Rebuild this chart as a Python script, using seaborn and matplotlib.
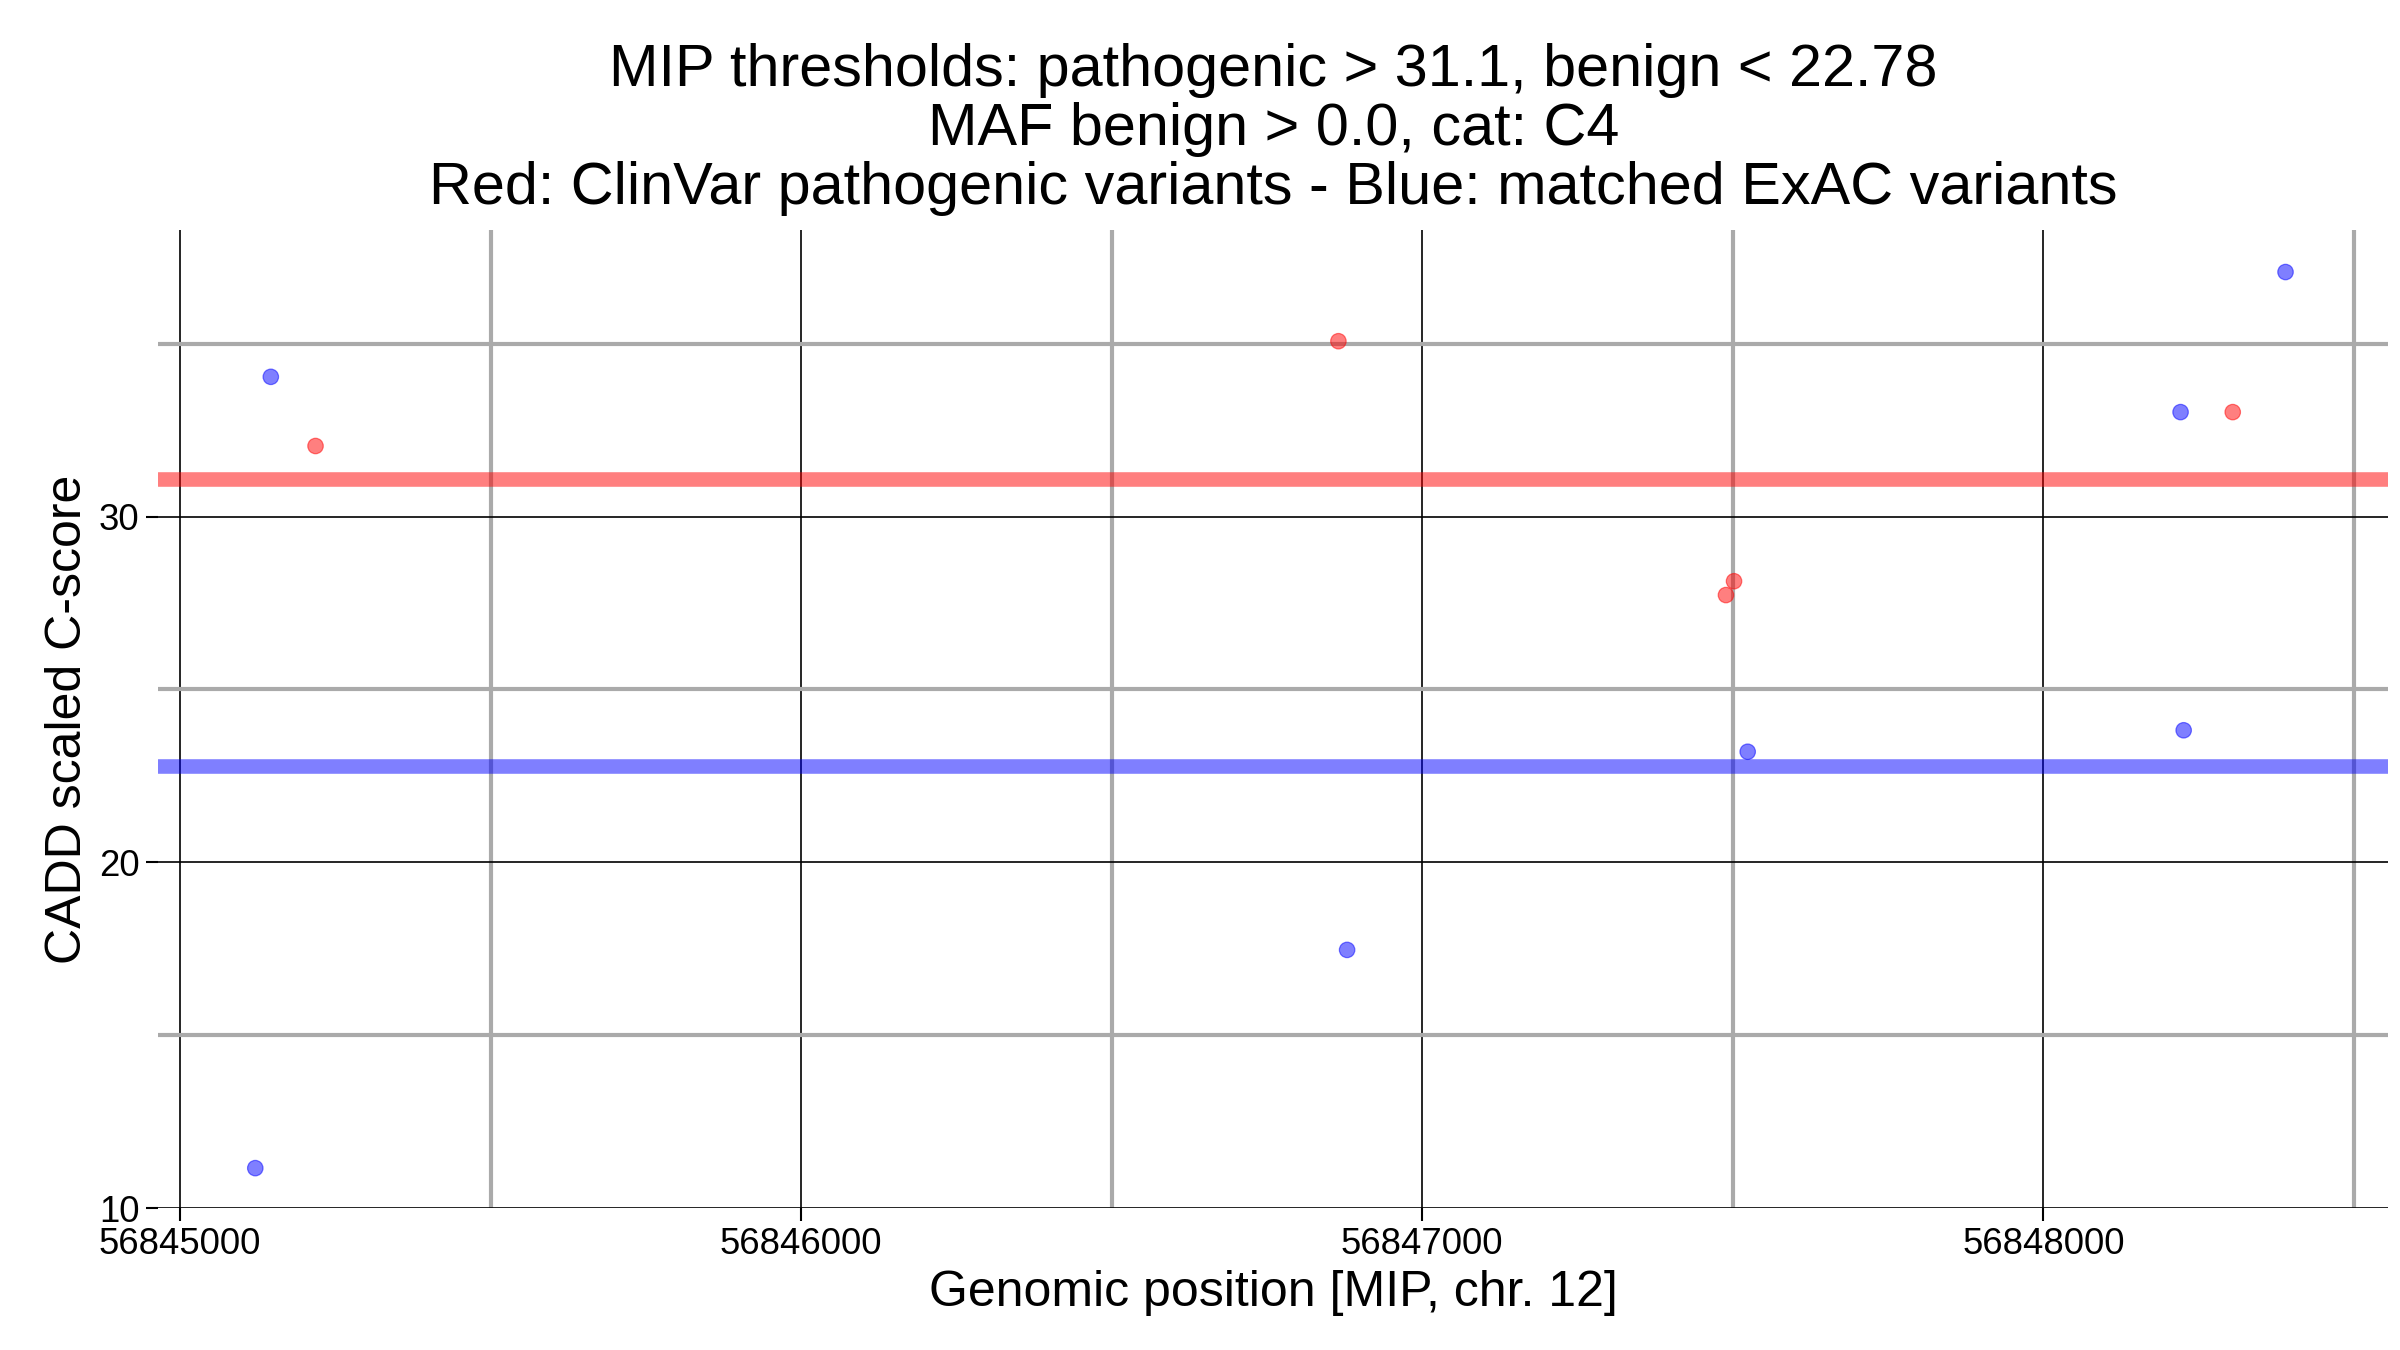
import matplotlib
matplotlib.use("Agg")
import matplotlib.pyplot as plt
import seaborn as sns
import pandas as pd
from matplotlib.ticker import MultipleLocator

sns.set_theme(style="white")
plt.rcParams['font.family'] = ['Liberation Sans', 'DejaVu Sans']
plt.rcParams['text.color'] = 'black'
plt.rcParams['axes.labelcolor'] = 'black'
plt.rcParams['xtick.color'] = 'black'
plt.rcParams['ytick.color'] = 'black'

blue_pos = [56845146, 56845121, 56846879, 56847524, 56848221, 56848226, 56848390]
blue_score = [34.04, 11.16, 17.47, 23.2, 33.02, 23.82, 37.07]
red_pos = [56845218, 56846865, 56847489, 56847502, 56848305]
red_score = [32.04, 35.07, 27.73, 28.13, 33.02]
path_thr = 31.1
benign_thr = 22.78

df = pd.DataFrame({
    "pos": blue_pos + red_pos,
    "score": blue_score + red_score,
    "grp": ["ExAC"] * len(blue_pos) + ["ClinVar"] * len(red_pos),
})

fig, ax = plt.subplots(figsize=(16, 9), dpi=150)
ax.set_xlim(56844965, 56848555)
ax.set_ylim(10, 38.3)
ax.xaxis.set_major_locator(MultipleLocator(1000))
ax.xaxis.set_minor_locator(MultipleLocator(500))
ax.yaxis.set_major_locator(MultipleLocator(10))
ax.yaxis.set_minor_locator(MultipleLocator(5))
ax.grid(which="major", color="black", linewidth=0.8)
ax.grid(which="minor", color="#aaaaaa", linewidth=2)
ax.set_axisbelow(True)
for s in ax.spines.values():
    s.set_visible(False)

ax.axhline(path_thr, color="red", alpha=0.5, linewidth=7)
ax.axhline(benign_thr, color="blue", alpha=0.5, linewidth=7)

sns.scatterplot(data=df, x="pos", y="score", hue="grp",
                palette={"ExAC": "blue", "ClinVar": "red"}, alpha=0.5,
                s=55, edgecolor=None, legend=False, ax=ax, zorder=3)

ax.tick_params(axis="both", which="major", length=6, width=1, color="black",
               labelsize=17.5, left=True, bottom=True, pad=3)
ax.tick_params(axis="both", which="minor", length=0)
ax.ticklabel_format(useOffset=False, style="plain", axis="x")
ax.set_xlabel("Genomic position [MIP, chr. 12]", fontsize=24, labelpad=4)
ax.set_ylabel("CADD scaled C-score", fontsize=24, labelpad=4)
ax.set_title("MIP thresholds: pathogenic > 31.1, benign < 22.78\n"
             "MAF benign > 0.0, cat: C4\n"
             "Red: ClinVar pathogenic variants - Blue: matched ExAC variants",
             fontsize=28.5, linespacing=1.1, pad=12)
fig.subplots_adjust(left=0.066, right=0.995, top=0.83, bottom=0.105)
fig.savefig("out.png")
